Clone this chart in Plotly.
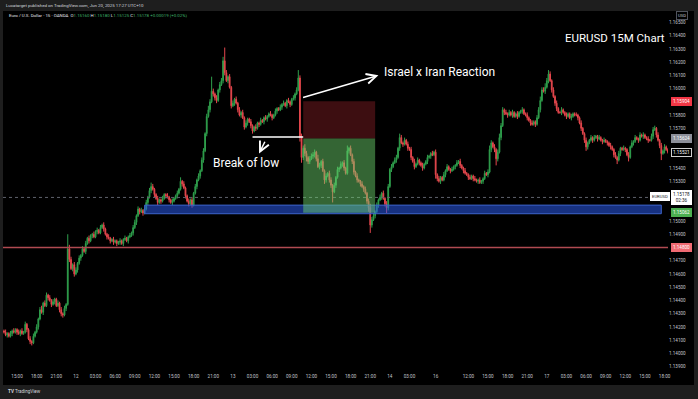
import pandas as pd
import plotly.graph_objects as go

# ---------------- data (EURUSD 15M) ----------------
first_open = 1.1417
close = [
    1.1416, 1.1414, 1.1415, 1.1413, 1.1415, 1.1417, 1.1416, 1.1418, 1.1416, 1.1415,
    1.1417, 1.1415, 1.1416, 1.1422, 1.1418, 1.1411, 1.1409, 1.1408, 1.1413, 1.1416,
    1.1420, 1.1426, 1.1433, 1.1431, 1.1438, 1.1436, 1.1444, 1.1442, 1.1440, 1.1437,
    1.1439, 1.1441, 1.1436, 1.1438, 1.1433, 1.1430, 1.1429, 1.1434, 1.1437, 1.1479,
    1.1471, 1.1464, 1.1467, 1.1460, 1.1463, 1.1468, 1.1472, 1.1474, 1.1479, 1.1477,
    1.1483, 1.1487, 1.1485, 1.1489, 1.1490, 1.1488, 1.1492, 1.1493, 1.1491, 1.1495,
    1.1497, 1.1494, 1.1490, 1.1488, 1.1487, 1.1485, 1.1486, 1.1484, 1.1485, 1.1483,
    1.1484, 1.1485, 1.1483, 1.1486, 1.1487, 1.1485, 1.1488, 1.1489, 1.1491, 1.1495,
    1.1499, 1.1504, 1.1509, 1.1507, 1.1508, 1.1506, 1.1509, 1.1514, 1.1518, 1.1523,
    1.1526, 1.1524, 1.1520, 1.1517, 1.1514, 1.1516, 1.1515, 1.1517, 1.1520, 1.1519,
    1.1518, 1.1516, 1.1514, 1.1515, 1.1517, 1.1519, 1.1521, 1.1524, 1.1530, 1.1528,
    1.1525, 1.1519, 1.1515, 1.1513, 1.1516, 1.1512, 1.1521, 1.1526, 1.1531, 1.1534,
    1.1538, 1.1546, 1.1553, 1.1566, 1.1579, 1.1584, 1.1590, 1.1598, 1.1596, 1.1593,
    1.1591, 1.1599, 1.1603, 1.1606, 1.1621, 1.1612, 1.1606, 1.1609, 1.1601, 1.1587,
    1.1589, 1.1592, 1.1589, 1.1584, 1.1580, 1.1582, 1.1578, 1.1571, 1.1574, 1.1577,
    1.1575, 1.1572, 1.1568, 1.1571, 1.1570, 1.1574, 1.1573, 1.1576, 1.1575, 1.1578,
    1.1577, 1.1579, 1.1581, 1.1580, 1.1578, 1.1580, 1.1583, 1.1585, 1.1584, 1.1586,
    1.1588, 1.1589, 1.1587, 1.1591, 1.1590, 1.1588, 1.1592, 1.1593, 1.1596, 1.1599,
    1.1608, 1.1563, 1.1548, 1.1555, 1.1551, 1.1548, 1.1545, 1.1547, 1.1549, 1.1550,
    1.1552, 1.1547, 1.1541, 1.1542, 1.1545, 1.1538, 1.1531, 1.1534, 1.1536, 1.1531,
    1.1527, 1.1522, 1.1527, 1.1533, 1.1539, 1.1540, 1.1543, 1.1544, 1.1540, 1.1536,
    1.1553, 1.1555, 1.1550, 1.1545, 1.1537, 1.1534, 1.1531, 1.1530, 1.1528, 1.1526,
    1.1524, 1.1521, 1.1515, 1.1510, 1.1497, 1.1501, 1.1504, 1.1507, 1.1512, 1.1516,
    1.1518, 1.1521, 1.1517, 1.1513, 1.1510, 1.1526, 1.1539, 1.1541, 1.1544, 1.1546,
    1.1548, 1.1555, 1.1563, 1.1559, 1.1558, 1.1561, 1.1558, 1.1555, 1.1554, 1.1548,
    1.1545, 1.1541, 1.1543, 1.1546, 1.1544, 1.1542, 1.1540, 1.1543, 1.1545, 1.1548,
    1.1549, 1.1551, 1.1550, 1.1552, 1.1535, 1.1532, 1.1530, 1.1533, 1.1531, 1.1535,
    1.1538, 1.1541, 1.1539, 1.1538, 1.1539, 1.1541, 1.1542, 1.1544, 1.1545, 1.1542,
    1.1540, 1.1538, 1.1536, 1.1535, 1.1533, 1.1532, 1.1534, 1.1532, 1.1531, 1.1530,
    1.1531, 1.1529, 1.1530, 1.1532, 1.1536, 1.1535, 1.1537, 1.1554, 1.1559, 1.1556,
    1.1554, 1.1547, 1.1552, 1.1563, 1.1572, 1.1584, 1.1582, 1.1581, 1.1580, 1.1582,
    1.1580, 1.1582, 1.1579, 1.1581, 1.1579, 1.1582, 1.1583, 1.1584, 1.1581, 1.1580,
    1.1578, 1.1576, 1.1574, 1.1573, 1.1575, 1.1573, 1.1578, 1.1584, 1.1591, 1.1599,
    1.1598, 1.1601, 1.1606, 1.1611, 1.1606, 1.1599, 1.1594, 1.1589, 1.1585, 1.1582,
    1.1582, 1.1584, 1.1582, 1.1580, 1.1579, 1.1581, 1.1578, 1.1579, 1.1581, 1.1580,
    1.1580, 1.1578, 1.1574, 1.1570, 1.1566, 1.1561, 1.1556, 1.1559, 1.1561, 1.1563,
    1.1561, 1.1563, 1.1564, 1.1562, 1.1563, 1.1561, 1.1560, 1.1561, 1.1560, 1.1559,
    1.1557, 1.1556, 1.1554, 1.1550, 1.1548, 1.1546, 1.1551, 1.1555, 1.1554, 1.1555,
    1.1554, 1.1550, 1.1548, 1.1556, 1.1559, 1.1560, 1.1563, 1.1562, 1.1561, 1.1565,
    1.1564, 1.1565, 1.1563, 1.1562, 1.1561, 1.1561, 1.1564, 1.1569, 1.1570, 1.1565,
    1.1561, 1.1557, 1.1551, 1.1553, 1.1556, 1.1554, 1.1552,
]
# wick lengths above / below the candle body, in pips
upper_wick = [
    1, 2, 1, 1, 2, 1, 2, 1, 1, 2,
    1, 2, 1, 2, 1, 1, 2, 1, 2, 1,
    2, 1, 2, 3, 1, 2, 2, 1, 2, 1,
    2, 1, 1, 2, 1, 2, 1, 2, 1, 11,
    3, 2, 1, 2, 2, 1, 2, 1, 2, 1,
    2, 1, 2, 1, 1, 2, 1, 2, 1, 2,
    1, 2, 1, 1, 2, 1, 1, 2, 1, 1,
    1, 2, 1, 1, 2, 1, 1, 2, 1, 2,
    2, 1, 2, 1, 2, 1, 1, 2, 1, 2,
    3, 2, 1, 1, 2, 1, 1, 2, 1, 1,
    2, 1, 1, 2, 1, 1, 2, 1, 3, 1,
    2, 1, 1, 2, 1, 2, 1, 2, 1, 2,
    1, 2, 2, 1, 2, 3, 2, 11, 2, 1,
    2, 1, 2, 2, 3, 10, 2, 1, 2, 1,
    2, 1, 2, 1, 2, 1, 2, 1, 2, 1,
    1, 2, 1, 1, 2, 1, 1, 2, 1, 1,
    2, 1, 1, 2, 1, 1, 2, 1, 1, 2,
    1, 2, 1, 1, 2, 1, 1, 2, 1, 2,
    6, 2, 3, 2, 3, 2, 1, 2, 2, 2,
    2, 1, 3, 2, 1, 2, 1, 2, 1, 2,
    2, 1, 2, 1, 2, 1, 2, 1, 2, 1,
    4, 1, 2, 1, 2, 1, 2, 1, 1, 2,
    1, 2, 1, 2, 3, 2, 2, 1, 2, 1,
    2, 1, 2, 1, 2, 2, 1, 2, 1, 2,
    2, 1, 3, 2, 1, 2, 1, 2, 1, 2,
    1, 2, 1, 2, 1, 1, 2, 1, 1, 2,
    1, 1, 2, 1, 2, 1, 2, 1, 1, 2,
    1, 2, 1, 1, 2, 1, 1, 2, 1, 2,
    1, 1, 2, 1, 1, 2, 1, 1, 2, 1,
    1, 2, 1, 1, 2, 1, 2, 3, 2, 1,
    2, 1, 2, 3, 2, 2, 1, 2, 1, 2,
    1, 2, 1, 1, 2, 1, 1, 2, 1, 1,
    2, 1, 1, 2, 1, 1, 2, 2, 3, 2,
    2, 3, 2, 3, 2, 1, 2, 1, 2, 1,
    1, 2, 1, 1, 2, 1, 1, 2, 1, 1,
    2, 1, 1, 2, 1, 1, 2, 1, 1, 2,
    1, 2, 1, 1, 2, 1, 1, 2, 1, 1,
    1, 2, 1, 1, 2, 1, 2, 1, 1, 2,
    1, 1, 2, 1, 2, 1, 2, 1, 1, 2,
    1, 2, 1, 1, 2, 1, 2, 2, 2, 1,
    2, 1, 2, 1, 2, 1, 1,
]
lower_wick = [
    1, 1, 2, 1, 1, 2, 1, 1, 2, 1,
    2, 1, 1, 1, 2, 1, 2, 2, 1, 1,
    1, 2, 1, 1, 2, 1, 1, 2, 1, 2,
    1, 2, 1, 1, 2, 2, 2, 1, 2, 1,
    2, 1, 2, 2, 1, 2, 1, 2, 1, 1,
    2, 1, 2, 1, 2, 1, 1, 2, 1, 1,
    1, 2, 1, 2, 1, 2, 1, 2, 1, 2,
    1, 2, 1, 2, 1, 1, 2, 1, 1, 2,
    1, 2, 1, 2, 1, 2, 1, 1, 2, 1,
    2, 1, 2, 1, 2, 1, 2, 1, 1, 2,
    1, 2, 1, 2, 1, 1, 2, 1, 1, 2,
    1, 2, 1, 2, 1, 2, 1, 1, 2, 1,
    2, 1, 2, 1, 2, 1, 2, 1, 2, 2,
    2, 1, 2, 1, 2, 2, 1, 2, 1, 2,
    1, 2, 1, 2, 1, 2, 1, 2, 1, 2,
    1, 2, 2, 1, 2, 1, 2, 1, 1, 2,
    1, 2, 1, 1, 2, 1, 1, 2, 1, 1,
    2, 1, 1, 2, 1, 2, 1, 1, 2, 1,
    1, 3, 4, 2, 2, 3, 2, 2, 1, 2,
    2, 2, 1, 2, 2, 1, 3, 2, 1, 2,
    2, 8, 1, 2, 1, 2, 1, 2, 2, 1,
    1, 2, 1, 2, 2, 1, 2, 1, 2, 1,
    2, 1, 2, 3, 6, 2, 1, 2, 1, 2,
    1, 2, 1, 2, 4, 2, 1, 2, 1, 1,
    2, 1, 2, 1, 2, 1, 1, 2, 1, 2,
    1, 2, 1, 1, 2, 1, 2, 1, 1, 2,
    1, 2, 1, 1, 3, 2, 1, 2, 1, 1,
    2, 1, 1, 2, 1, 1, 2, 1, 1, 2,
    1, 2, 1, 1, 2, 1, 1, 2, 1, 1,
    2, 1, 1, 2, 1, 1, 2, 1, 2, 1,
    2, 5, 2, 1, 2, 1, 2, 1, 2, 1,
    1, 2, 1, 1, 2, 1, 1, 2, 1, 1,
    2, 1, 2, 1, 1, 2, 1, 1, 2, 1,
    1, 2, 1, 2, 1, 2, 1, 2, 2, 1,
    1, 2, 1, 1, 2, 1, 1, 2, 1, 1,
    1, 2, 1, 2, 1, 2, 3, 2, 1, 1,
    2, 1, 1, 2, 1, 1, 2, 1, 1, 2,
    1, 2, 1, 2, 1, 3, 1, 2, 1, 1,
    2, 1, 3, 1, 1, 2, 1, 1, 2, 1,
    1, 2, 1, 1, 2, 1, 1, 2, 1, 2,
    1, 2, 5, 1, 2, 1, 1,
]

# trading sessions shown (UTC+10); the market is shut over the weekend
session_1 = ("2025-06-11 13:00", "2025-06-14 06:45")
session_2 = ("2025-06-16 07:00", "2025-06-17 18:30")

tick_times = [
    "2025-06-11 15:00", "2025-06-11 18:00", "2025-06-11 21:00", "2025-06-12 00:00",
    "2025-06-12 03:00", "2025-06-12 06:00", "2025-06-12 09:00", "2025-06-12 12:00",
    "2025-06-12 15:00", "2025-06-12 18:00", "2025-06-12 21:00", "2025-06-13 00:00",
    "2025-06-13 03:00", "2025-06-13 06:00", "2025-06-13 09:00", "2025-06-13 12:00",
    "2025-06-13 15:00", "2025-06-13 18:00", "2025-06-13 21:00", "2025-06-14 00:00",
    "2025-06-14 03:00", "2025-06-16 07:00", "2025-06-16 12:00", "2025-06-16 15:00",
    "2025-06-16 18:00", "2025-06-16 21:00", "2025-06-17 00:00", "2025-06-17 03:00",
    "2025-06-17 06:00", "2025-06-17 09:00", "2025-06-17 12:00", "2025-06-17 15:00",
    "2025-06-17 18:00",
]
tick_text = [
    "15:00", "18:00", "21:00", "12", "03:00", "06:00", "09:00", "12:00",
    "15:00", "18:00", "21:00", "13", "03:00", "06:00", "09:00", "12:00",
    "15:00", "18:00", "21:00", "14", "03:00", "16", "12:00", "15:00",
    "18:00", "21:00", "17", "03:00", "06:00", "09:00", "12:00", "15:00", "18:00",
]
# price scale labels (those hidden behind the coloured price tags are left out)
price_ticks = [1.139, 1.140, 1.141, 1.142, 1.143, 1.144, 1.145, 1.146, 1.147, 1.149,
               1.150, 1.153, 1.154, 1.157, 1.158, 1.160, 1.161, 1.162, 1.163, 1.164, 1.165]

# drawings / levels
short_entry, short_stop, short_target = 1.15624, 1.15904, 1.15062
short_from, short_to = "2025-06-13 10:45", "2025-06-13 21:45"
zone_low, zone_high = 1.15055, 1.15120
zone_from, zone_to = "2025-06-12 10:30", "2025-06-17 17:30"
support_level = 1.14800
break_level = 1.15634
break_from, break_to = "2025-06-13 03:00", "2025-06-13 10:45"
last_bar_close = 1.15521
live = dict(o=1.15160, h=1.15180, l=1.15125, c=1.15178, chg=0.00019, pct=0.02, countdown="02:36")

# ---------------- build ----------------
times = list(pd.date_range(*session_1, freq="15min")) + list(pd.date_range(*session_2, freq="15min"))
stamps = [t.strftime("%Y-%m-%d %H:%M") for t in times]
pos = {s: i for i, s in enumerate(stamps)}
n = min(len(stamps), len(close), len(upper_wick), len(lower_wick))
xs = list(range(n))
opens = ([first_open] + close[:-1])[:n]
closes = close[:n]
highs = [round(max(o, c) + u * 1e-4, 5) for o, c, u in zip(opens, closes, upper_wick)]
lows = [round(min(o, c) - d * 1e-4, 5) for o, c, d in zip(opens, closes, lower_wick)]

UP, DOWN = "#2f9e4c", "#e5474d"
FONT = "Roboto"
AXIS_TXT = "#c3c6ce"

W, H = 698, 399
L, R, T, B = 3, 30, 11, 27
PW, PH = W - L - R, H - T - B


def px(x):
    return (x - L) / PW


def py(y):
    return (T + PH - y) / PH


fig = go.Figure(go.Candlestick(
    x=xs, open=opens, high=highs, low=lows, close=closes,
    increasing=dict(line=dict(color=UP, width=1), fillcolor=UP),
    decreasing=dict(line=dict(color=DOWN, width=1), fillcolor=DOWN),
    whiskerwidth=0, hoverinfo="skip", showlegend=False,
))

shapes = [
    # black chart canvas (includes the price scale)
    dict(type="rect", xref="paper", yref="paper", x0=px(3), x1=px(694), y0=py(385), y1=py(11),
         fillcolor="#000000", line=dict(width=0), layer="below"),
    # horizontal support line
    dict(type="line", xref="paper", yref="y", x0=0, x1=1, y0=support_level, y1=support_level,
         line=dict(color="#b04a51", width=1.5), layer="above"),
    # live price dotted line
    dict(type="line", xref="paper", yref="y", x0=0, x1=1, y0=live["c"], y1=live["c"],
         line=dict(color="#5f626c", width=1, dash="dot"), layer="above"),
    # blue demand zone
    dict(type="rect", xref="x", yref="y", x0=pos[zone_from], x1=pos[zone_to], y0=zone_low, y1=zone_high,
         fillcolor="rgba(41,90,235,0.55)", line=dict(color="#3d63c9", width=1), layer="above"),
    # short position: risk (red) and reward (green)
    dict(type="rect", xref="x", yref="y", x0=pos[short_from], x1=pos[short_to], y0=short_entry, y1=short_stop,
         fillcolor="rgba(242,54,69,0.25)", line=dict(width=0), layer="above"),
    dict(type="rect", xref="x", yref="y", x0=pos[short_from], x1=pos[short_to], y0=short_target, y1=short_entry,
         fillcolor="rgba(110,215,110,0.47)", line=dict(width=0), layer="above"),
    # break of low line
    dict(type="line", xref="x", yref="y", x0=pos[break_from], x1=pos[break_to], y0=break_level, y1=break_level,
         line=dict(color="#ffffff", width=1.5), layer="above"),
]

ann = []
# arrows
ann.append(dict(x=pos["2025-06-13 22:15"], y=1.1610, ax=pos["2025-06-13 10:30"], ay=1.15929,
                xref="x", yref="y", axref="x", ayref="y", text="", showarrow=True,
                arrowhead=5, arrowsize=1.3, arrowwidth=1.5, arrowcolor="#ffffff"))
ann.append(dict(x=pos["2025-06-13 04:00"], y=1.1551, ax=pos["2025-06-13 05:00"], ay=1.1561,
                xref="x", yref="y", axref="x", ayref="y", text="", showarrow=True,
                arrowhead=5, arrowsize=1.3, arrowwidth=1.5, arrowcolor="#ffffff"))
# chart texts
ann.append(dict(x=pos["2025-06-13 22:45"], y=1.16125, xref="x", yref="y", xanchor="left", yanchor="middle",
                text="Israel x Iran Reaction", showarrow=False, font=dict(family=FONT, size=12, color="#ffffff")))
ann.append(dict(x=pos["2025-06-13 02:00"], y=1.15438, xref="x", yref="y", xanchor="center", yanchor="middle",
                text="Break of low", showarrow=False, font=dict(family=FONT, size=12, color="#ffffff")))
ann.append(dict(x=px(667), y=py(38), xref="paper", yref="paper", xanchor="right", yanchor="middle",
                text="EURUSD 15M Chart", showarrow=False, font=dict(family=FONT, size=11.5, color="#ffffff")))


def price_tag(price, bg, fg, border=None, text=None):
    return dict(x=px(671), y=price, xref="paper", yref="y", xanchor="left", yanchor="middle",
                text=text or f"{price:.5f}", showarrow=False, bgcolor=bg,
                bordercolor=border or bg, borderwidth=1, borderpad=1,
                font=dict(family=FONT, size=4.6, color=fg))


ann += [
    price_tag(short_stop, "#f23645", "#ffffff"),
    price_tag(short_entry, "#8c8f99", "#ffffff"),
    price_tag(last_bar_close, "#000000", "#ffffff", border="#d0d0d0"),
    price_tag(live["c"], "#ffffff", "#131722", text=f"{live['c']:.5f}<br>{live['countdown']}"),
    price_tag(short_target, "#4caf50", "#ffffff"),
    price_tag(support_level, "#f06a72", "#ffffff"),
    dict(x=px(670), y=live["c"] + 0.00004, xref="paper", yref="y", xanchor="right", yanchor="middle",
         text="EURUSD", showarrow=False, bgcolor="#ffffff", bordercolor="#ffffff", borderpad=1,
         font=dict(family=FONT, size=4.2, color="#131722")),
    dict(x=px(682), y=py(16), xref="paper", yref="paper", xanchor="center", yanchor="middle",
         text="USD", showarrow=False, bordercolor="#50535c", borderwidth=1, borderpad=1,
         font=dict(family=FONT, size=4.2, color=AXIS_TXT)),
]

# header / footer texts
ann.append(dict(x=px(4), y=py(5.5), xref="paper", yref="paper", xanchor="left", yanchor="middle",
                text="Lucatarget published on TradingView.com, Jun 20, 2025 17:27 UTC+10", showarrow=False,
                font=dict(family=FONT, size=4.4, color="#d1d4dc")))
g = "#3fb36a"
ohlc = (f"Euro / U.S. Dollar · 15 · OANDA&nbsp;&nbsp;O<span style='color:{g}'>{live['o']:.5f}</span> "
        f"H<span style='color:{g}'>{live['h']:.5f}</span> L<span style='color:{g}'>{live['l']:.5f}</span> "
        f"C<span style='color:{g}'>{live['c']:.5f}</span> "
        f"<span style='color:{g}'>+{live['chg']:.5f} (+{live['pct']:.2f}%)</span>")
ann.append(dict(x=px(7), y=py(15.5), xref="paper", yref="paper", xanchor="left", yanchor="middle",
                text=ohlc, showarrow=False, font=dict(family=FONT, size=4.4, color="#e0e3eb")))
ann.append(dict(x=px(6), y=py(392), xref="paper", yref="paper", xanchor="left", yanchor="middle",
                text="<b>TV</b> TradingView", showarrow=False, font=dict(family=FONT, size=4.6, color="#d1d4dc")))

fig.update_layout(
    width=W, height=H,
    margin=dict(l=L, r=R, t=T, b=B, pad=0),
    paper_bgcolor="#1e1e1e", plot_bgcolor="#000000",
    shapes=shapes, annotations=ann,
    showlegend=False, hovermode=False,
    font=dict(family=FONT, color=AXIS_TXT),
    xaxis=dict(range=[-0.6, n - 0.9], rangeslider=dict(visible=False), showgrid=False, zeroline=False,
               tickmode="array", tickvals=[pos[t] for t in tick_times], ticktext=tick_text,
               tickfont=dict(family=FONT, size=4.6, color=AXIS_TXT), ticks="", showline=False),
    yaxis=dict(range=[1.138595, 1.165861], side="right", showgrid=False, zeroline=False,
               tickmode="array", tickvals=price_ticks, ticktext=[f"{v:.5f}" for v in price_ticks],
               tickfont=dict(family=FONT, size=4.6, color=AXIS_TXT), ticks="", showline=False),
)

fig.write_html(
    "out.html",
    config={"displayModeBar": False},
    post_script="document.body.style.margin='0';document.body.style.padding='0';"
                "document.documentElement.style.overflow='hidden';",
)
